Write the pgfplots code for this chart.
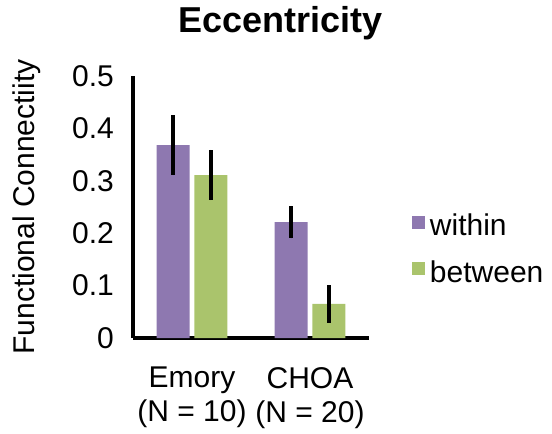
\documentclass[border=0pt]{standalone}
\usepackage{pgfplots}
\pgfplotsset{compat=1.18}
\usepackage{fontspec}
\setmainfont{Liberation Sans}

\definecolor{withinc}{RGB}{142,120,176}
\definecolor{betweenc}{RGB}{170,196,108}

\begin{document}
\begin{tikzpicture}
\useasboundingbox (-66.5pt,-48pt) rectangle (209.5pt,169pt);
\begin{axis}[
    scale only axis,
    width=118pt, height=131pt,
    xmin=-0.5, xmax=1.5,
    ymin=0, ymax=0.5,
    axis x line=bottom, axis y line=left,
    axis line style={-, line width=1.8pt},
    major tick length=0pt,
    xtick={0,1},
    xticklabels={Emory\\(N = 10),CHOA\\(N = 20)},
    ytick={0,0.1,0.2,0.3,0.4,0.5},
    /pgf/number format/assume math mode=true,
    tick label style={font=\fontsize{15}{17}\selectfont},
    xticklabel style={align=center, yshift=-11pt},
    yticklabel style={xshift=-6pt},
    ylabel={Functional Connectiity},
    ylabel style={font=\fontsize{15}{17}\selectfont, at={(axis description cs:-0.36,0.5)}, anchor=south},
    title={Eccentricity},
    title style={font=\bfseries\fontsize{18}{20}\selectfont, at={(rel axis cs:0.627,1)}, anchor=base, yshift=16pt},
    ybar,
    bar width=0.28,
    legend style={at={(rel axis cs:1.155,0.336)}, anchor=west, draw=none,
        font=\fontsize{15}{17}\selectfont, row sep=6pt, nodes={inner sep=2.5pt}},
    legend cell align=left,
    legend image code/.code={\draw[#1,draw=none] (0pt,-1pt) rectangle (6.5pt,5.5pt);},
]
\addplot[fill=withinc, draw=none, bar shift=-0.16,
    error bars/.cd, y dir=both, y explicit, error mark=none,
    error bar style={line width=2pt, black}]
coordinates {(0,0.368) +- (0,0.057) (1,0.221) +- (0,0.031)};
\addplot[fill=betweenc, draw=none, bar shift=0.16,
    error bars/.cd, y dir=both, y explicit, error mark=none,
    error bar style={line width=2pt, black}]
coordinates {(0,0.311) +- (0,0.048) (1,0.065) +- (0,0.036)};
\legend{within, between}
\end{axis}
\end{tikzpicture}
\end{document}
